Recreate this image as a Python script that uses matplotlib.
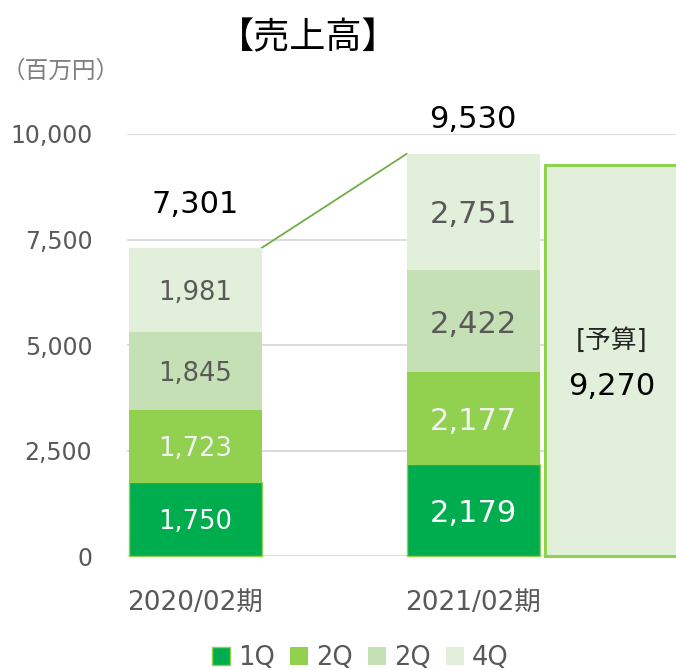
import matplotlib
matplotlib.use("Agg")
import matplotlib.pyplot as plt
from matplotlib.patches import Patch

plt.rcParams['font.family'] = ['DejaVu Sans', 'Noto Sans CJK JP']

periods = ['2020/02期', '2021/02期']
q_names = ['1Q', '2Q', '2Q', '4Q']
q1 = [1750, 2179]
q2 = [1723, 2177]
q3 = [1845, 2422]
q4 = [1981, 2751]
totals = [7301, 9530]
budget = 9270

colors = ['#00AD4E', '#92D050', '#C5E0B4', '#E2EFDA']
label_colors = ['white', '#F2F2F2', '#595959', '#595959']
label_sizes = [18.5, 22]
total_offsets = [1020, 820]

fig = plt.figure(figsize=(6.76, 6.70), dpi=100)
ax = fig.add_axes([0.188, 0.170, 0.812, 0.630])

x = [0, 1]
w = 0.478
bottom = [0, 0]
for i, vals in enumerate([q1, q2, q3, q4]):
    if i == 0:
        ax.bar(x, vals, w, bottom=bottom, color=colors[i], edgecolor='#92D050', linewidth=1,
               zorder=3, clip_on=False)
    else:
        ax.bar(x, vals, w, bottom=bottom, color=colors[i], linewidth=0, zorder=3)
    for j in range(2):
        ax.text(x[j], bottom[j] + vals[j] / 2 - 70, f'{vals[j]:,}', ha='center', va='center',
                color=label_colors[i], fontsize=label_sizes[j], zorder=4)
    bottom = [bottom[k] + vals[k] for k in range(2)]

for j in range(2):
    ax.text(x[j], totals[j] + total_offsets[j], f'{totals[j]:,}', ha='center', va='center',
            fontsize=22, color='black', clip_on=False)

# connector line
ax.plot([x[0] + w / 2, x[1] - w / 2], [totals[0], totals[1]], color='#70AD47', lw=1.3, zorder=2)

# budget bar (runs off the right edge)
ax.bar(1.259, budget, 0.55, align='edge', color='#E2EFDA', edgecolor='#92D050',
       linewidth=2.2, zorder=3)
ax.text(1.5, 5100, '[予算]', ha='center', va='center', fontsize=18.5, color='#262626', zorder=4)
ax.text(1.5, 4020, f'{budget:,}', ha='center', va='center', fontsize=22, color='black', zorder=4)

ax.set_xlim(-0.245, 1.73)
ax.set_ylim(0, 10000)
ax.set_yticks([0, 2500, 5000, 7500, 10000])
ax.set_yticklabels([f'{v:,}' for v in [0, 2500, 5000, 7500, 10000]])
ax.set_xticks(x)
ax.set_xticklabels(periods)
ax.tick_params(axis='y', length=0, pad=25, labelsize=17, labelcolor='#595959')
ax.tick_params(axis='x', length=0, pad=24, labelsize=19, labelcolor='#595959')
ax.grid(axis='y', color='#D9D9D9', lw=1.3, zorder=0)
for s in ax.spines.values():
    s.set_visible(False)
# keep the budget bar's bottom edge visible
ax.patches[-1].set_clip_box(None)
ax.patches[-1].set_clip_path(None)

fig.text(0.456, 0.943, '【売上高】', ha='center', va='center', fontsize=26, color='black')
fig.text(0.003, 0.895, '（百万円）', ha='left', va='center', fontsize=17, color='#7F7F7F')

handles = [Patch(facecolor=colors[0], edgecolor='#92D050', lw=1)] + \
          [Patch(facecolor=c, edgecolor='none') for c in colors[1:]]
fig.legend(handles, q_names, loc='center', bbox_to_anchor=(0.533, 0.018), ncol=4, frameon=False,
           fontsize=18.5, labelcolor='#595959', handlelength=0.7, handleheight=0.7,
           handletextpad=0.3, columnspacing=0.6)

fig.savefig('out.png', dpi=100)
